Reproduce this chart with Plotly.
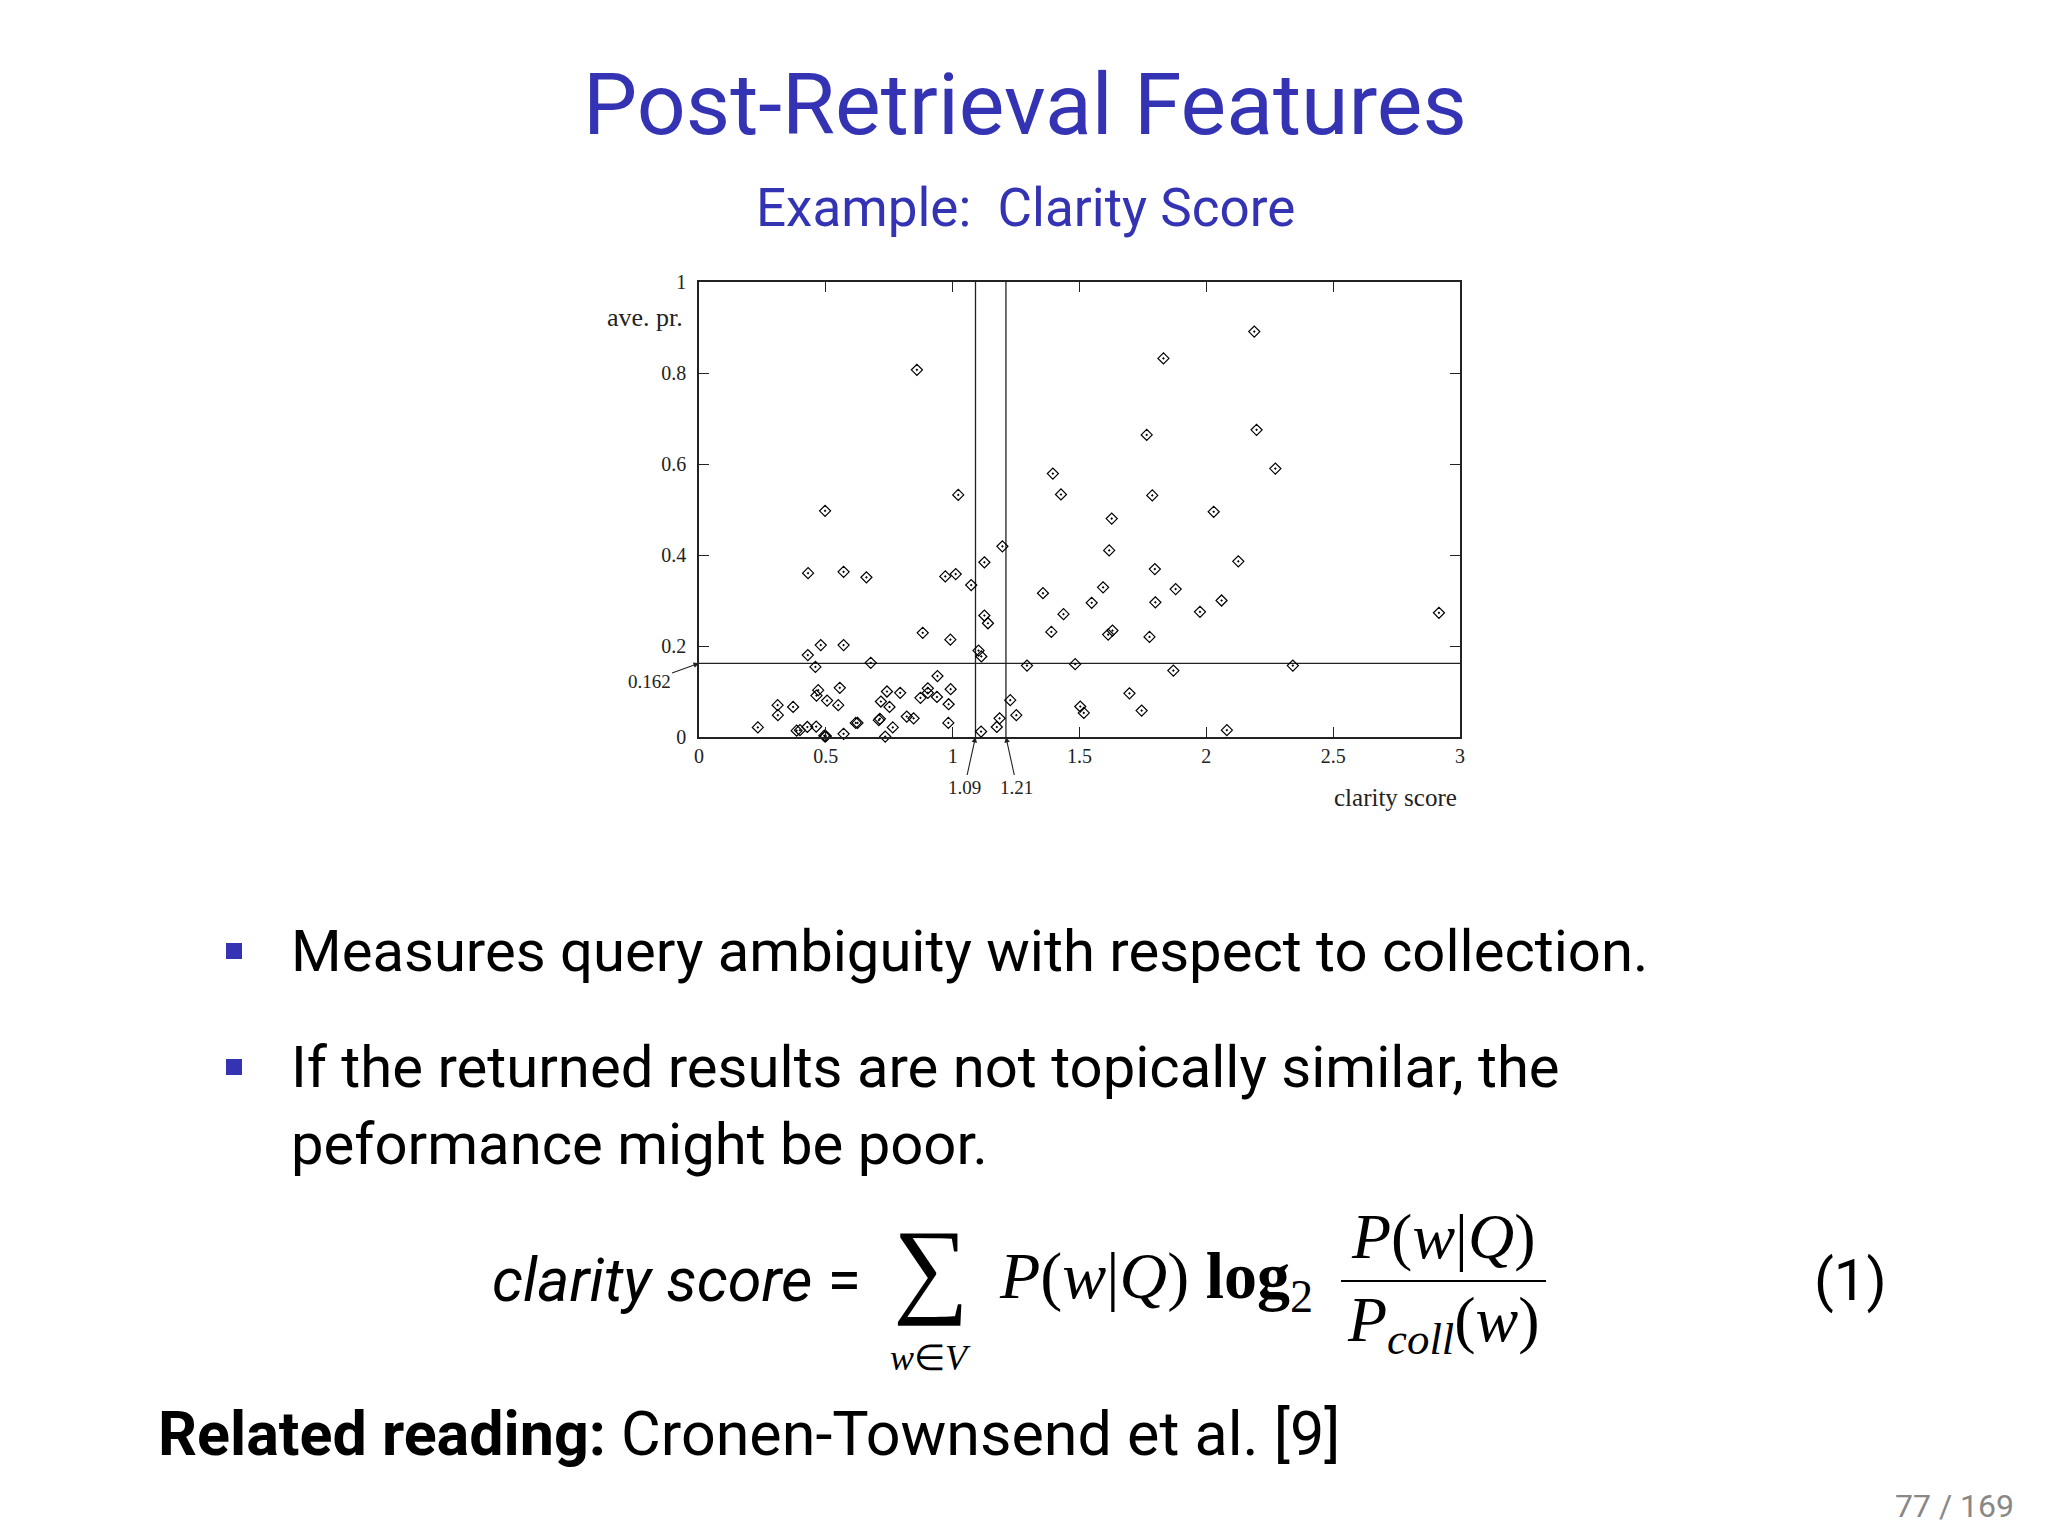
import plotly.graph_objects as go

# ---------------- data ----------------
clarity = [0.859, 1.022, 0.497, 1.395, 1.427, 2.189, 1.831, 1.765, 2.198, 2.272,
           1.787, 2.029, 1.627, 1.196, 1.125, 0.430, 0.570, 0.660, 0.971, 1.012,
           1.073, 1.356, 1.548, 1.437, 1.125, 1.139, 1.389, 0.882, 0.991, 0.480,
           0.570, 0.429, 1.102, 1.113, 0.459, 0.677, 1.293, 1.483, 0.940, 0.470,
           0.463, 0.555, 0.505, 0.549, 0.310, 0.311, 0.371, 0.232, 0.385, 0.398,
           0.427, 0.462, 0.494, 0.497, 0.500, 0.570, 0.618, 0.625, 0.709, 0.713,
           0.734, 0.764, 0.717, 0.741, 0.751, 0.793, 0.819, 0.846, 0.873, 0.902,
           0.902, 0.938, 0.992, 0.984, 0.983, 1.112, 1.174, 1.185, 1.227, 1.251,
           1.503, 1.517, 1.617, 1.797, 2.126, 1.593, 1.879, 1.799, 2.060, 1.975,
           2.917, 1.613, 1.630, 1.776, 1.870, 2.341, 1.697, 1.745, 2.081]
ave_pr = [0.807, 0.532, 0.497, 0.579, 0.533, 0.891, 0.832, 0.664, 0.675, 0.590,
          0.531, 0.495, 0.480, 0.419, 0.384, 0.360, 0.363, 0.351, 0.353, 0.358,
          0.334, 0.316, 0.295, 0.270, 0.267, 0.250, 0.231, 0.229, 0.214, 0.202,
          0.202, 0.180, 0.190, 0.177, 0.154, 0.163, 0.157, 0.160, 0.134, 0.103,
          0.091, 0.108, 0.080, 0.070, 0.070, 0.048, 0.066, 0.021, 0.014, 0.015,
          0.022, 0.023, 0.003, 0.001, 0.002, 0.007, 0.031, 0.031, 0.037, 0.040,
          0.001, 0.021, 0.078, 0.100, 0.066, 0.097, 0.045, 0.041, 0.086, 0.107,
          0.097, 0.088, 0.105, 0.072, 0.031, 0.012, 0.022, 0.041, 0.081, 0.048,
          0.067, 0.053, 0.410, 0.369, 0.386, 0.329, 0.325, 0.296, 0.300, 0.275,
          0.273, 0.225, 0.234, 0.220, 0.146, 0.157, 0.096, 0.058, 0.015]

threshold_ap = 0.162
threshold_clarity = [1.09, 1.21]
x_range = [0, 3]
y_range = [0, 1]
x_ticks = [0, 0.5, 1, 1.5, 2, 2.5, 3]
x_ticklabels = ["0", "0.5", "1", "1.5", "2", "2.5", "3"]
y_ticks = [0, 0.2, 0.4, 0.6, 0.8, 1]
y_ticklabels = ["0", "0.2", "0.4", "0.6", "0.8", "1"]

title = "Post-Retrieval Features"
subtitle = "Example:  Clarity Score"
bullets = ["Measures query ambiguity with respect to collection.",
           "If the returned results are not topically similar, the",
           "peformance might be poor."]
page = "77 / 169"

# ---------------- layout helpers ----------------
W, H = 2048, 1536
BLUE = "#3333B3"
SANS = "Roboto"
SERIF = "Liberation Serif"


def px(x):
    return x / W


def py(y):
    return 1 - y / H


fig = go.Figure()

# threshold lines
fig.add_trace(go.Scatter(x=x_range, y=[threshold_ap, threshold_ap], mode="lines",
                         line=dict(color="#222", width=1.3), hoverinfo="skip"))
for xv in threshold_clarity:
    fig.add_trace(go.Scatter(x=[xv, xv], y=y_range, mode="lines",
                             line=dict(color="#222", width=1.3), hoverinfo="skip"))

# scatter points
fig.add_trace(go.Scatter(x=clarity, y=ave_pr, mode="markers", cliponaxis=False,
                         marker=dict(symbol="diamond-open-dot", size=8.5, color="black",
                                     line=dict(width=1.2, color="black"))))

axis_common = dict(showgrid=False, zeroline=False, showline=True, linecolor="#222",
                   linewidth=1.5, mirror="allticks", ticks="inside", ticklen=10,
                   tickwidth=1.3, tickcolor="#222", automargin=False,
                   tickfont=dict(family=SERIF, size=20, color="#222"))

fig.update_layout(
    width=W, height=H, margin=dict(l=0, r=0, t=0, b=0, pad=0),
    paper_bgcolor="white", plot_bgcolor="white", showlegend=False,
    xaxis=dict(domain=[px(699), px(1460)], range=x_range, tickvals=x_ticks,
               ticktext=x_ticklabels, ticklabelstandoff=0, **axis_common),
    yaxis=dict(domain=[py(737), py(282)], range=y_range, tickvals=y_ticks,
               ticktext=y_ticklabels, ticklabelstandoff=7, **axis_common),
)

ann = []


def text(x, y, s, size, family=SANS, color="black", xanchor="left", yanchor="middle"):
    ann.append(dict(x=px(x), y=py(y), xref="paper", yref="paper", text=s,
                    showarrow=False, xanchor=xanchor, yanchor=yanchor,
                    font=dict(family=family, size=size, color=color)))


# slide title
text(1025, 104, title, 86, color=BLUE, xanchor="center")
text(1025, 208, subtitle, 53, color=BLUE, xanchor="center")

# chart axis titles
text(685, 317, "ave. pr.", 26, family=SERIF, color="#222", xanchor="right")
text(1459, 797, "clarity score", 25, family=SERIF, color="#222", xanchor="right")

# arrows with labels
ann.append(dict(x=0, y=threshold_ap, xref="x", yref="y", text="0.162",
                showarrow=True, ax=-50, ay=18, axref="pixel", ayref="pixel",
                arrowhead=2, arrowsize=1, arrowwidth=1.1, arrowcolor="#222",
                standoff=0, font=dict(family=SERIF, size=19, color="#222")))
for xv, dx in zip(threshold_clarity, [-11, 11]):
    ann.append(dict(x=xv, y=0, xref="x", yref="y", text=f"{xv:.2f}",
                    showarrow=True, ax=dx, ay=50, axref="pixel", ayref="pixel",
                    arrowhead=2, arrowsize=1, arrowwidth=1.1, arrowcolor="#222",
                    standoff=0, font=dict(family=SERIF, size=19, color="#222")))

# bullets
text(289, 951, bullets[0], 58)
text(289, 1067, bullets[1], 58)
text(289, 1144, bullets[2], 58)

# formula
text(863, 1280, "<i>clarity score</i> =", 61, xanchor="right")
text(931, 1267, "∑", 106, family=SERIF, xanchor="center")
text(930, 1358, "<i>w</i>∈<i>V</i>", 36, family=SERIF, xanchor="center")
text(997, 1280, "<i>P</i>(<i>w</i>|<i>Q</i>) <b>log</b><sub>2</sub>", 66, family=SERIF)
text(1443, 1236, "<i>P</i>(<i>w</i>|<i>Q</i>)", 64, family=SERIF, xanchor="center")
text(1443, 1324, "<i>P</i><sub><i>coll</i></sub>(<i>w</i>)", 64, family=SERIF, xanchor="center")
text(1850, 1280, "(1)", 58, xanchor="center")

# related reading
text(156, 1434, "<b>Related reading:</b> Cronen-Townsend et al. [9]", 61)

# page number
text(2016, 1506, page, 32, color="#888", xanchor="right")

fig.update_layout(annotations=ann)

shapes = [
    dict(type="line", xref="paper", yref="paper", x0=px(1341), x1=px(1546),
         y0=py(1281), y1=py(1281), line=dict(color="black", width=2)),
]
for yb in [951, 1067]:
    shapes.append(dict(type="rect", xref="paper", yref="paper",
                       x0=px(226), x1=px(242), y0=py(yb - 8), y1=py(yb + 8),
                       line=dict(width=0), fillcolor=BLUE))
fig.update_layout(shapes=shapes)

fig.write_html("out.html", config={"displayModeBar": False},
               post_script="document.body.style.margin='0';")
